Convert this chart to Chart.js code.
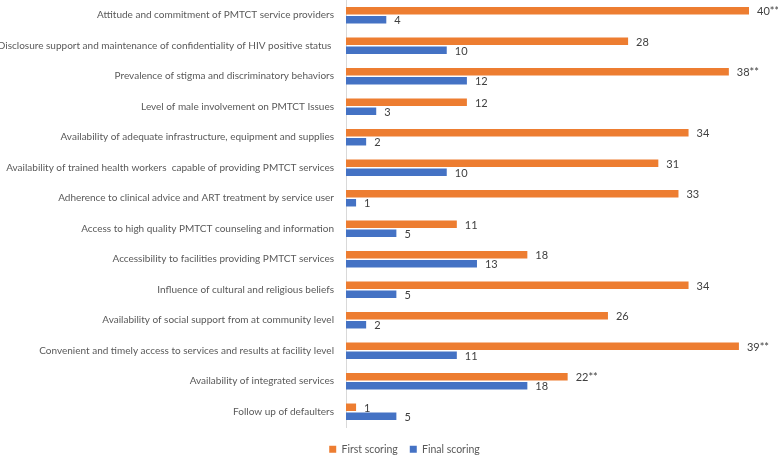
<!DOCTYPE html>
<html lang="en">
<head>
  <meta charset="UTF-8">
  <title>PMTCT scoring</title>
  <script src="https://cdn.jsdelivr.net/npm/chart.js"></script>
  <style>
    body { margin: 0; padding: 0; background: #ffffff; }
    #wrap { width: 778px; height: 455px; position: relative; }
  </style>
</head>
<body>
  <div id="wrap">
    <canvas id="chart"></canvas>
  </div>
  <script>
    // categories, top to bottom
    const categories = [
      'Attitude and commitment of PMTCT service providers',
      'Disclosure support and maintenance of confidentiality of HIV positive status ',
      'Prevalence of stigma and discriminatory behaviors',
      'Level of male involvement on PMTCT Issues',
      'Availability of adequate infrastructure, equipment and supplies',
      'Availability of trained health workers  capable of providing PMTCT services',
      'Adherence to clinical advice and ART treatment by service user',
      'Access to high quality PMTCT counseling and information',
      'Accessibility to facilities providing PMTCT services',
      'Influence of cultural and religious beliefs',
      'Availability of social support from at community level',
      'Convenient and timely access to services and results at facility level',
      'Availability of integrated services',
      'Follow up of defaulters'
    ];
    const firstScoring = [40, 28, 38, 12, 34, 31, 33, 11, 18, 34, 26, 39, 22, 1];
    const finalScoring = [4, 10, 12, 3, 2, 10, 1, 5, 13, 5, 2, 11, 18, 5];
    // marks after some of the first scoring values
    const firstMarks = ['**', '', '**', '', '', '', '', '', '', '', '', '**', '**', ''];

    const fontName = 'Lato';

    // value labels at the bar ends
    const valueLabels = {
      id: 'valueLabels',
      afterDatasetsDraw(chart) {
        const ctx = chart.ctx;
        ctx.save();
        ctx.font = '11px ' + fontName;
        ctx.fillStyle = '#404040';
        ctx.textAlign = 'left';
        ctx.textBaseline = 'middle';
        chart.data.datasets.forEach((ds, i) => {
          chart.getDatasetMeta(i).data.forEach((bar, j) => {
            const mark = i === 0 ? firstMarks[j] : '';
            ctx.fillText(ds.data[j] + mark, bar.x + 8, bar.y + 1);
          });
        });
        ctx.restore();
      }
    };

    // legend: fixed height strip at the bottom, nudged right/down like the original
    const legendPlace = {
      id: 'legendPlace',
      beforeInit(chart) {
        const fit = chart.legend.fit;
        chart.legend.fit = function () {
          fit.bind(chart.legend)();
          this.height = 28;
        };
      },
      afterLayout(chart) {
        chart.legend.left += 30;
        chart.legend.right += 30;
        chart.legend.top += 5;
      }
    };

    new Chart(document.getElementById('chart').getContext('2d'), {
      type: 'bar',
      data: {
        labels: categories,
        datasets: [
          {
            label: 'First scoring',
            data: firstScoring,
            backgroundColor: '#ED7D31',
            categoryPercentage: 0.59,
            barPercentage: 0.83
          },
          {
            label: 'Final scoring',
            data: finalScoring,
            backgroundColor: '#4472C4',
            categoryPercentage: 0.59,
            barPercentage: 0.83
          }
        ]
      },
      options: {
        indexAxis: 'y',
        responsive: true,
        maintainAspectRatio: false,
        animation: false,
        layout: { padding: { top: 0, right: 29, bottom: 0, left: 0 } },
        plugins: {
          legend: {
            position: 'bottom',
            labels: {
              boxWidth: 7,
              boxHeight: 7,
              padding: 12,
              color: '#595959',
              font: { family: fontName, size: 10.5 }
            }
          },
          tooltip: { enabled: false }
        },
        scales: {
          x: {
            display: false,
            min: 0,
            max: 40
          },
          y: {
            grid: { display: false },
            border: { display: true, color: '#d9d9d9' },
            ticks: {
              color: '#595959',
              padding: 4,
              font: { family: fontName, size: 10 }
            },
            afterFit(scale) {
              scale.width = 346;
              scale.paddingTop = 0;
              scale.paddingBottom = 0;
            }
          }
        }
      },
      plugins: [valueLabels, legendPlace]
    });
  </script>
</body>
</html>
